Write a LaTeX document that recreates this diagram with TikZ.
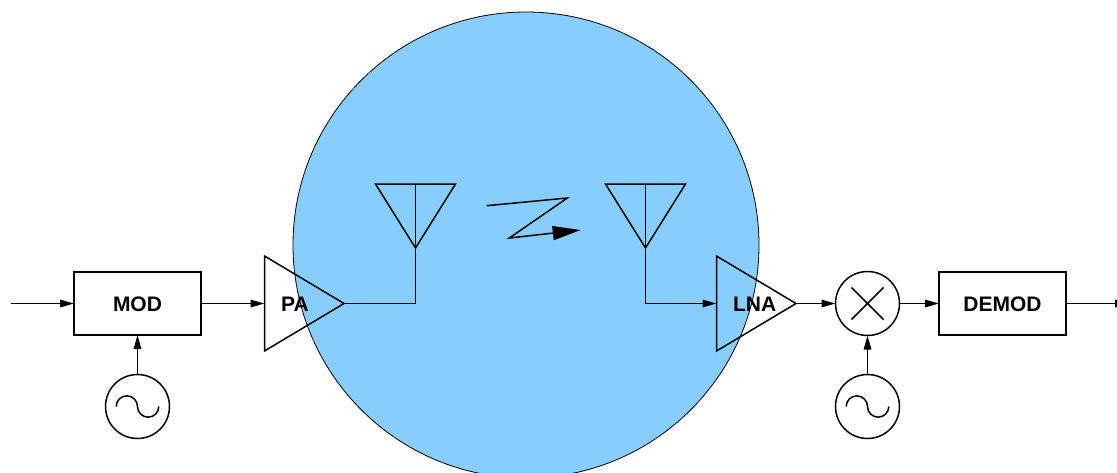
\documentclass[tikz,border=0pt]{standalone}
\usepackage{fontspec}
\setmainfont{Liberation Sans}
\usetikzlibrary{arrows.meta}
\definecolor{skyfill}{RGB}{135,206,255}
\tikzset{
  wire/.style={line width=1.5pt,line join=miter},
  flow/.style={wire,-{Triangle[length=14pt,width=7.5pt]}},
  bigflow/.style={wire,-{Triangle[length=28pt,width=14pt]}},
  blockbox/.style={draw,wire,minimum width=127pt,minimum height=63pt,inner sep=0pt,outer sep=0pt,font=\fontsize{21}{24}\selectfont\bfseries},
  disc/.style={draw,wire,circle,minimum size=64pt,inner sep=0pt,outer sep=0pt},
  tag/.style={inner sep=0pt,outer sep=0pt,font=\fontsize{21}{24}\selectfont\bfseries},
}
\newcommand{\sinewave}[1]{\draw[wire] ([xshift=-21.3pt]#1.center) arc[start angle=180,end angle=0,radius=10.65pt] arc[start angle=180,end angle=360,radius=10.65pt];}
\begin{document}
\begin{tikzpicture}[x=1pt,y=-1pt]
\useasboundingbox (0,0) rectangle (1117,472);
\clip (0,0) rectangle (1117,472);
% channel disc
\node[draw=black,fill=skyfill,line width=0.8pt,circle,minimum size=466pt,inner sep=0pt,outer sep=0pt] (channel) at (526,245) {};
% blocks
\node[blockbox,text depth=0pt,text height=15pt] (mod) at (137.5,303.5) {MOD};
\node[blockbox,text depth=0pt,text height=15pt] (demod) at (1002.5,303.5) {DEMOD};
\node[disc] (osca) at (137.5,406.5) {};
\node[disc] (oscb) at (867.5,406.5) {};
\node[disc] (mix) at (867.5,303.5) {};
\sinewave{osca}
\sinewave{oscb}
\draw[wire] ([shift={(-16pt,-16pt)}]mix.center) -- ([shift={(16pt,16pt)}]mix.center);
\draw[wire] ([shift={(-16pt,16pt)}]mix.center) -- ([shift={(16pt,-16pt)}]mix.center);
% amplifiers
\coordinate (paIn) at (264.5,303.5);
\coordinate (paOut) at (344,303.5);
\coordinate (lnaIn) at (716.5,303.5);
\coordinate (lnaOut) at (796,303.5);
\draw[wire] (264.5,256) -- (paOut) -- (264.5,351) -- cycle;
\draw[wire] (716.5,256) -- (lnaOut) -- (716.5,351) -- cycle;
\node[tag,text depth=0pt,text height=15pt] (pa) at (295,304) {PA};
\node[tag,text depth=0pt,text height=15pt] (lna) at (754.7,304) {LNA};
% antennas
\coordinate (antaTop) at (415.5,184);
\coordinate (antaTip) at (415.5,248);
\coordinate (antbTop) at (645.5,184);
\coordinate (antbTip) at (645.5,248);
\draw[wire] (375.5,184) -- (455.5,184) -- (antaTip) -- cycle;
\draw[wire] (605.5,184) -- (685.5,184) -- (antbTip) -- cycle;
\draw[wire] (antaTop) -- (antaTip);
\draw[wire] (antbTop) -- (antbTip);
% free ends
\coordinate (inStart) at (10.5,303.5);
\coordinate (outEnd) at (1129,303.5);
\coordinate (zigA) at (486.7,205.7);
\coordinate (zigB) at (567.3,198);
\coordinate (zigC) at (509.3,238);
\coordinate (zigD) at (580.7,230);
% connectors
\draw[flow] (inStart) -- (mod.west);
\draw[flow] (mod.east) -- (paIn);
\draw[flow] (osca.north) -- (mod.south);
\draw[wire] (paOut) -- (antaTip |- paOut) -- (antaTip);
\draw[flow] (antbTip) |- (lnaIn);
\draw[flow] (lnaOut) -- (mix.west);
\draw[flow] (oscb.north) -- (mix.south);
\draw[flow] (mix.east) -- (demod.west);
\draw[flow] (demod.east) -- (outEnd);
\draw[bigflow] (zigA) -- (zigB) -- (zigC) -- (zigD);
\end{tikzpicture}
\end{document}
